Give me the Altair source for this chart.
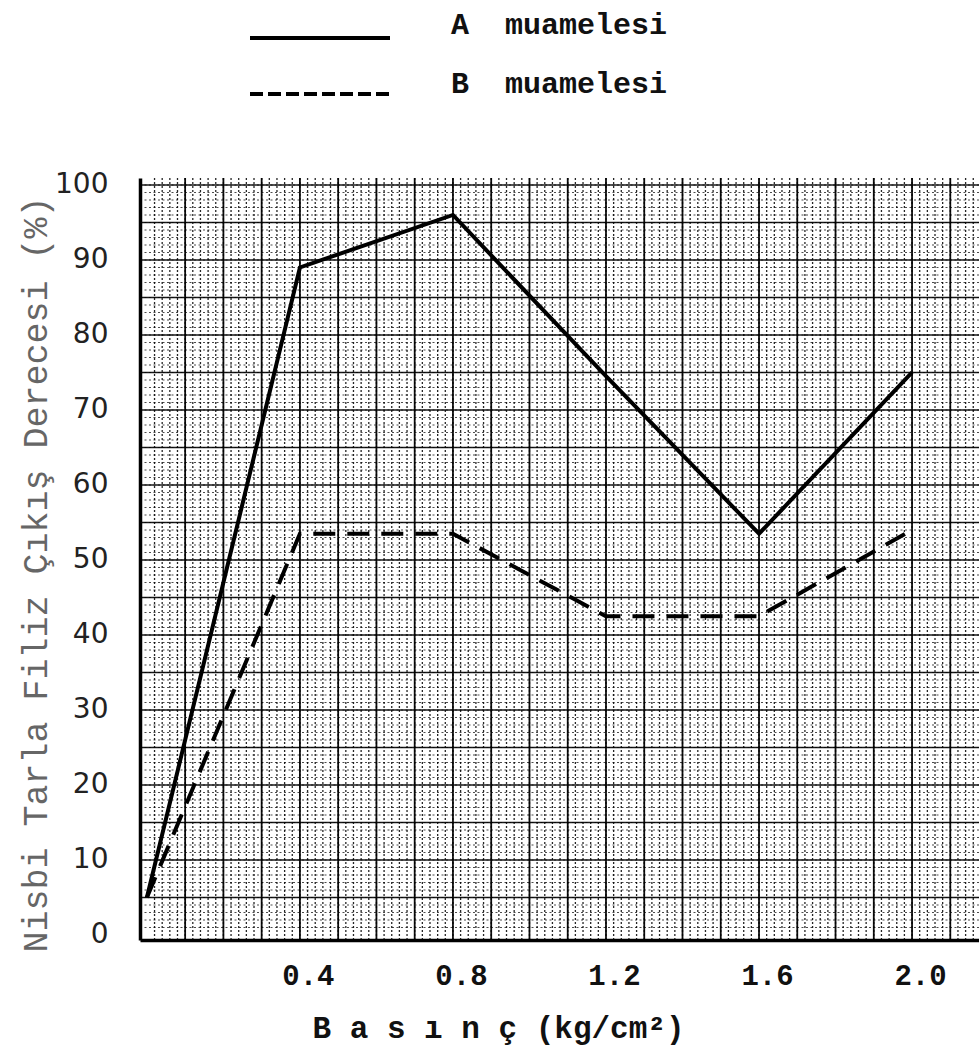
import altair as alt
import pandas as pd
import numpy as np

# ---- data ----
basinc = [0.0, 0.4, 0.8, 1.2, 1.6, 2.0]
a_muamelesi = [5, 89, 96, 74.5, 53.5, 75]
b_muamelesi = [5, 53.5, 53.5, 42.5, 42.5, 54]

x_ticks = [0.4, 0.8, 1.2, 1.6, 2.0]
y_ticks = [0, 10, 20, 30, 40, 50, 60, 70, 80, 90, 100]
legend_labels = ["A\u00a0\u00a0muamelesi", "B\u00a0\u00a0muamelesi"]
x_title = "B a s ı n ç (kg/cm²)"
y_title = "Nisbi Tarla Filiz Çıkış Derecesi (%)"

# graph-paper grid positions
grid_x_major = [round(v, 2) for v in np.arange(0.1, 2.2, 0.1)]
grid_x_minor = [round(v, 3) for v in np.arange(0.02, 2.18, 0.02)]
grid_y_major = list(range(5, 101, 5))
grid_y_minor = list(range(1, 101, 1))

X_DOMAIN = [-0.018, 2.175]
Y_DOMAIN = [-0.67, 100.93]
W, H = 839, 762

xs = alt.Scale(domain=X_DOMAIN, nice=False, zero=False)
ys = alt.Scale(domain=Y_DOMAIN, nice=False, zero=False)

x_axis = alt.Axis(
    values=x_ticks, format=".1f", title=x_title, grid=False, ticks=False, tickSize=0,
    domainColor="black", domainWidth=3.5,
    labelFont="Liberation Mono", labelFontWeight="bold", labelFontSize=29, labelColor="#111",
    labelBaseline="middle", labelPadding=35, labelOffset=8,
    titleFont="Liberation Mono", titleFontWeight="bold", titleFontSize=31, titleColor="#111",
    titleX=358, titleY=88, titleAlign="center", titleBaseline="middle",
)
y_axis = alt.Axis(
    values=y_ticks, title=y_title, grid=False, ticks=False, tickSize=0,
    domainColor="black", domainWidth=3.5,
    labelFont="DejaVu Sans", labelFontWeight="normal", labelFontSize=28, labelColor="#222",
    labelPadding=32,
    titleFont="Liberation Mono", titleFontWeight="normal", titleFontSize=35, titleColor="#666",
    titleX=-105, titleY=396, titleAngle=270, titleAlign="center", titleBaseline="middle",
)

df_a = pd.DataFrame({"x": basinc, "y": a_muamelesi})
df_b = pd.DataFrame({"x": basinc, "y": b_muamelesi})

minor_v = alt.Chart(pd.DataFrame({"x": grid_x_minor})).mark_rule(
    color="black", strokeWidth=1.3, strokeDash=[2, 2], opacity=0.85
).encode(x=alt.X("x:Q", scale=xs, axis=x_axis))
minor_h = alt.Chart(pd.DataFrame({"y": grid_y_minor})).mark_rule(
    color="black", strokeWidth=1.1, strokeDash=[2, 2.5], opacity=0.7
).encode(y=alt.Y("y:Q", scale=ys, axis=y_axis))
major_v = alt.Chart(pd.DataFrame({"x": grid_x_major})).mark_rule(
    color="black", strokeWidth=1.8, opacity=0.95
).encode(x=alt.X("x:Q", scale=xs, axis=x_axis))
major_h = alt.Chart(pd.DataFrame({"y": grid_y_major})).mark_rule(
    color="black", strokeWidth=1.5, opacity=0.9
).encode(y=alt.Y("y:Q", scale=ys, axis=y_axis))

line_a = alt.Chart(df_a).mark_line(color="black", strokeWidth=4).encode(
    x=alt.X("x:Q", scale=xs, axis=x_axis),
    y=alt.Y("y:Q", scale=ys, axis=y_axis),
)
line_b = alt.Chart(df_b).mark_line(color="black", strokeWidth=4, strokeDash=[22, 12]).encode(
    x=alt.X("x:Q", scale=xs, axis=x_axis),
    y=alt.Y("y:Q", scale=ys, axis=y_axis),
)

# legend drawn above the plot area
leg_df_a = pd.DataFrame({"t": [legend_labels[0]]})
leg_df_b = pd.DataFrame({"t": [legend_labels[1]]})
leg_line_a = alt.Chart(leg_df_a).mark_rule(color="black", strokeWidth=4).encode(
    x=alt.value(110), x2=alt.value(250), y=alt.value(-140)
)
leg_line_b = alt.Chart(leg_df_b).mark_rule(color="black", strokeWidth=4, strokeDash=[13, 5]).encode(
    x=alt.value(110), x2=alt.value(250), y=alt.value(-84)
)
leg_text_a = alt.Chart(leg_df_a).mark_text(
    font="Liberation Mono", fontWeight="bold", fontSize=30, align="left", baseline="middle", color="#111"
).encode(x=alt.value(311), y=alt.value(-153), text="t:N")
leg_text_b = alt.Chart(leg_df_b).mark_text(
    font="Liberation Mono", fontWeight="bold", fontSize=30, align="left", baseline="middle", color="#111"
).encode(x=alt.value(311), y=alt.value(-94), text="t:N")

chart = alt.layer(
    minor_v, minor_h, major_v, major_h, line_b, line_a,
    leg_line_a, leg_line_b, leg_text_a, leg_text_b,
).properties(
    width=W, height=H,
    autosize=alt.AutoSizeParams(type="none"),
    padding={"left": 140, "top": 178, "right": 0, "bottom": 111},
    background="white",
).configure_view(stroke=None)

chart.save("out.html", embed_options={"renderer": "svg", "actions": False})
